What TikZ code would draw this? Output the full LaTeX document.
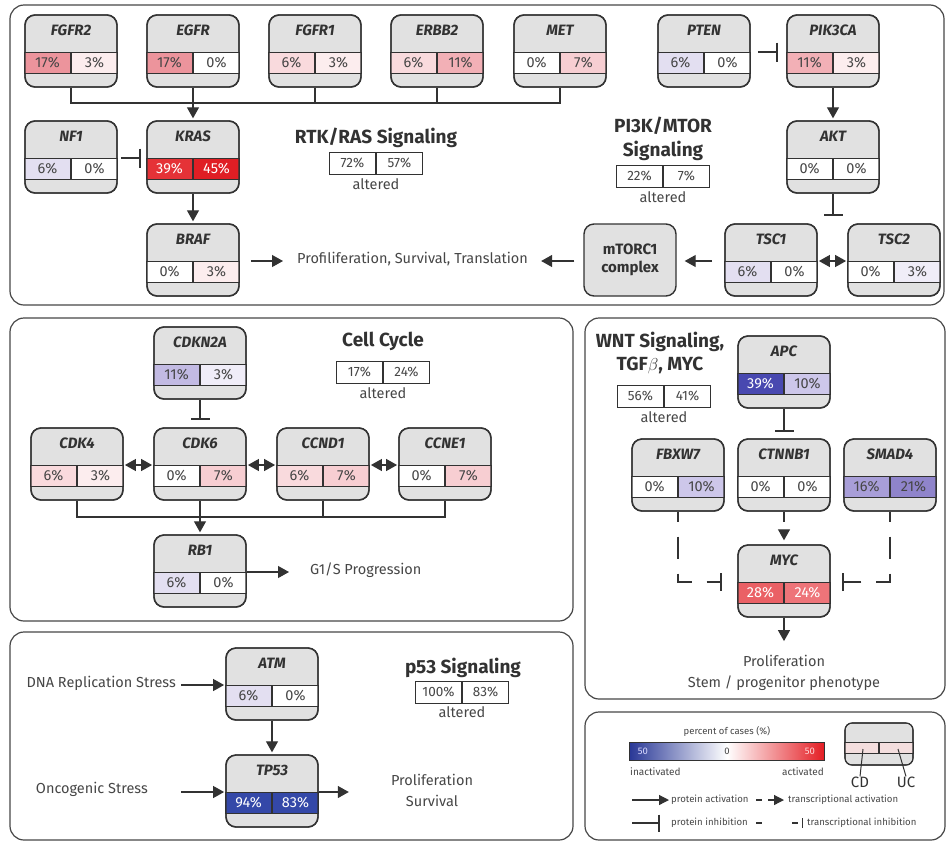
\documentclass[tikz,border=0pt]{standalone}
\usepackage{fontspec}
\setmainfont{Fira Sans}
\usetikzlibrary{arrows.meta,calc}
\definecolor{boxgray}{RGB}{225,225,225}
\definecolor{lin}{RGB}{50,50,50}
\definecolor{tg}{RGB}{70,70,70}
\definecolor{rA}{RGB}{252,237,238}
\definecolor{rB}{RGB}{249,218,221}
\definecolor{rC}{RGB}{247,206,210}
\definecolor{rD}{RGB}{242,176,182}
\definecolor{rE}{RGB}{236,148,156}
\definecolor{rF}{RGB}{238,116,121}
\definecolor{rG}{RGB}{234,96,101}
\definecolor{rH}{RGB}{229,50,55}
\definecolor{rI}{RGB}{224,30,36}
\definecolor{bA}{RGB}{240,237,248}
\definecolor{bB}{RGB}{227,223,241}
\definecolor{bC}{RGB}{205,199,234}
\definecolor{bD}{RGB}{194,186,227}
\definecolor{bE}{RGB}{168,158,216}
\definecolor{bF}{RGB}{143,132,203}
\definecolor{bG}{RGB}{72,72,176}
\definecolor{bH}{RGB}{52,72,168}
\definecolor{gblue}{RGB}{40,55,150}
\definecolor{gred}{RGB}{228,30,36}
\definecolor{legpink}{RGB}{244,222,222}
\tikzset{
  panel/.style={draw=lin!90, line width=1.2pt, rounded corners=14pt},
  genebox/.style={draw=lin, fill=boxgray, line width=1.4pt, rounded corners=10pt, minimum width=92pt, minimum height=72pt, inner sep=0pt},
  geneframe/.style={draw=lin, line width=1.4pt, rounded corners=10pt, minimum width=92pt, minimum height=72pt, inner sep=0pt},
  cell/.style={draw=lin, line width=0.9pt, minimum width=46pt, minimum height=21pt, inner sep=0pt, font=\fontsize{14.5}{14.5}\selectfont, text=tg},
  acell/.style={draw=lin, fill=white, line width=1pt, minimum width=46pt, minimum height=22pt, inner sep=0pt, font=\fontsize{13.5}{13.5}\selectfont, text=tg},
  gname/.style={inner sep=0pt, font=\fontsize{15}{15}\selectfont\bfseries\itshape, text=lin},
  ttl/.style={inner sep=0pt, align=center, font=\fontsize{19}{23.5}\selectfont\bfseries, text=lin},
  alt/.style={inner sep=0pt, font=\fontsize{14.5}{14.5}\selectfont, text=tg},
  txt/.style={inner sep=0pt, align=center, font=\fontsize{14.5}{21}\selectfont, text=tg},
  conn/.style={draw=lin, line width=1.2pt},
  act/.style={conn, -{Triangle[width=12pt,length=11pt]}},
  dact/.style={conn, -{Triangle[width=12pt,length=11pt]}, dash pattern=on 22pt off 15pt, dash phase=12pt},
  both/.style={conn, {Triangle[width=12pt,length=11pt]}-{Triangle[width=12pt,length=11pt]}},
  inh/.style={conn, line width=1.4pt, -{Bar[width=19pt,line width=2pt]}},
  dinh/.style={conn, line width=1.6pt, -{Bar[width=18pt,line width=2pt]}, dash pattern=on 22pt off 15pt, dash phase=12pt},
  leg/.style={inner sep=0pt, font=\fontsize{9.6}{9.6}\selectfont, text=tg, anchor=west},
  legsmall/.style={inner sep=0pt, font=\fontsize{9.5}{9.5}\selectfont, text=tg},
}
\newcommand\gene[8]{%
  \node[genebox] (#1) at (#2,#3) {};
  \node[cell,fill=#5,anchor=north east] (#1-l) at (#2,{#3+1}) {#6};
  \node[cell,fill=#7,anchor=north west] (#1-r) at (#2,{#3+1}) {#8};
  \node[geneframe] (#1-f) at (#2,#3) {};
  \node[gname] (#1-n) at (#2,{#3-21}) {#4};
}
\newcommand\altbox[6]{% id, x, y, a, b, gap
  \node[acell,anchor=east] (#1-a) at (#2,#3) {#4};
  \node[acell,anchor=west] (#1-b) at (#2,#3) {#5};
  \node[alt] (#1-c) at (#2,{#3+#6}) {altered};
}
\newcommand\wt[1]{\textcolor{white}{#1}}
\begin{document}
\begin{tikzpicture}[x=1pt,y=-1pt]
\useasboundingbox (0,0) rectangle (947,844);
% panels
\draw[panel] (10,5) rectangle (944,305);
\draw[panel] (10,318) rectangle (573,621);
\draw[panel] (10,632) rectangle (573,840);
\draw[panel] (585,318) rectangle (945,699);
\draw[panel] (585,712) rectangle (945,840);

% ===== RTK/RAS and PI3K =====
\gene{FGFR2}{71}{51}{FGFR2}{rE}{17\%}{rA}{3\%}
\gene{EGFR}{193}{51}{EGFR}{rE}{17\%}{white}{0\%}
\gene{FGFR1}{315}{51}{FGFR1}{rB}{6\%}{rA}{3\%}
\gene{ERBB2}{437}{51}{ERBB2}{rB}{6\%}{rD}{11\%}
\gene{MET}{560}{51}{MET}{white}{0\%}{rC}{7\%}
\gene{PTEN}{704}{51}{PTEN}{bB}{6\%}{white}{0\%}
\gene{PIK3CA}{833}{51}{PIK3CA}{rD}{11\%}{rA}{3\%}
\gene{NF1}{71}{157}{NF1}{bB}{6\%}{white}{0\%}
\gene{KRAS}{193}{157}{KRAS}{rH}{\wt{39\%}}{rI}{\wt{45\%}}
\gene{AKT}{833}{157}{AKT}{white}{0\%}{white}{0\%}
\gene{BRAF}{193}{260}{BRAF}{white}{0\%}{rA}{3\%}
\gene{TSC1}{771}{260}{TSC1}{bB}{6\%}{white}{0\%}
\gene{TSC2}{894}{260}{TSC2}{white}{0\%}{bA}{3\%}
\node[genebox, align=center, font=\fontsize{15}{18}\selectfont\bfseries, text=lin] (mtorc) at (630,260) {mTORC1\\complex};

\node[ttl] (rtkt) at (376,138) {RTK/RAS Signaling};
\altbox{rtk}{376}{163}{72\%}{57\%}{21}
\node[ttl] (pikt) at (663,139) {PI3K/MTOR\\Signaling};
\altbox{pik}{663}{176}{22\%}{7\%}{21}

\node[txt, anchor=west] (out1) at (297,259) {Profiliferation, Survival, Translation};

\coordinate (rtkbus) at (0,103);
\draw[conn] (FGFR2.south) -- (FGFR2.south |- rtkbus) -| (MET.south);
\draw[conn] (FGFR1.south) -- (FGFR1.south |- rtkbus);
\draw[conn] (ERBB2.south) -- (ERBB2.south |- rtkbus);
\draw[act, shorten >=2pt] (EGFR.south) -- (KRAS.north);
\draw[inh, shorten <=3pt, shorten >=5pt] (NF1-r.north east) -- (KRAS-l.north west);
\draw[act, shorten >=2pt] (KRAS.south) -- (BRAF.north);
\draw[act, shorten <=11pt, shorten >=14pt] (BRAF-r.north east) -- (BRAF-r.north east -| out1.west);
\draw[inh, shorten <=7pt, shorten >=8pt] (PTEN-r.north east) -- (PIK3CA-l.north west);
\draw[act, shorten >=2pt] (PIK3CA.south) -- (AKT.north);
\coordinate (tscj) at (833,216);
\draw[inh] (AKT.south) -- (tscj);
\draw[both, shorten <=1pt, shorten >=1pt] (TSC1-r.north east) -- (TSC2-l.north west);
\draw[act, shorten <=12pt, shorten >=8pt] (TSC1-l.north west) -- (TSC1-l.north west -| mtorc.east);
\draw[act, shorten <=9pt, shorten >=13pt] (TSC1-l.north west -| mtorc.west) -- (TSC1-l.north west -| out1.east);

% ===== Cell cycle =====
\gene{CDKN2A}{200}{363}{CDKN2A}{bD}{11\%}{bA}{3\%}
\gene{CDK4}{77}{464}{CDK4}{rB}{6\%}{rA}{3\%}
\gene{CDK6}{200}{464}{CDK6}{white}{0\%}{rC}{7\%}
\gene{CCND1}{323}{464}{CCND1}{rB}{6\%}{rC}{7\%}
\gene{CCNE1}{445}{464}{CCNE1}{white}{0\%}{rC}{7\%}
\gene{RB1}{200}{571}{RB1}{bB}{6\%}{white}{0\%}
\node[ttl] (cct) at (383,341) {Cell Cycle};
\altbox{cc}{383}{372}{17\%}{24\%}{21}
\node[txt, anchor=west] (g1s) at (310,570) {G1/S Progression};

\draw[inh, shorten >=7pt] (CDKN2A.south) -- (CDK6.north);
\draw[both, shorten <=1pt, shorten >=1pt] (CDK4-r.north east) -- (CDK6-l.north west);
\draw[both, shorten <=1pt, shorten >=1pt] (CDK6-r.north east) -- (CCND1-l.north west);
\draw[both, shorten <=1pt, shorten >=1pt] (CCND1-r.north east) -- (CCNE1-l.north west);
\coordinate (ccbus) at (0,517);
\draw[conn] (CDK4.south) -- (CDK4.south |- ccbus) -| (CCNE1.south);
\draw[conn] (CCND1.south) -- (CCND1.south |- ccbus);
\draw[act, shorten >=2pt] (CDK6.south) -- (RB1.north);
\draw[act, shorten >=21pt] (RB1-r.north east) -- (RB1-r.north east -| g1s.west);

% ===== p53 =====
\gene{ATM}{272}{684}{ATM}{bB}{6\%}{white}{0\%}
\gene{TP53}{272}{791}{TP53}{bH}{\wt{94\%}}{bH}{\wt{83\%}}
\node[ttl] (p53t) at (463,668) {p53 Signaling};
\altbox{p53}{462}{692}{100\%}{83\%}{20}
\node[txt, anchor=east] (dna) at (176,683) {DNA Replication Stress};
\node[txt, anchor=east] (onco) at (148,789) {Oncogenic Stress};
\node[txt] (p53out) at (432,790) {Proliferation\\Survival};
\draw[act, shorten <=5pt, shorten >=1pt] (ATM-l.north west -| dna.east) -- (ATM-l.north west);
\draw[act, shorten <=33pt, shorten >=1pt] (TP53-l.north west -| onco.east) -- (TP53-l.north west);
\draw[act, shorten >=2pt] (ATM.south) -- (TP53.north);
\draw[act, shorten >=42pt] (TP53-r.north east) -- (TP53-r.north east -| p53out.west);

% ===== WNT =====
\gene{APC}{784}{372}{APC}{bG}{\wt{39\%}}{bC}{10\%}
\gene{FBXW7}{678}{475}{FBXW7}{white}{0\%}{bC}{10\%}
\gene{CTNNB1}{784}{475}{CTNNB1}{white}{0\%}{white}{0\%}
\gene{SMAD4}{890}{475}{SMAD4}{bE}{16\%}{bF}{21\%}
\gene{MYC}{784}{581}{MYC}{rG}{\wt{28\%}}{rF}{\wt{24\%}}
\node[ttl] (wntt) at (660,353) {WNT Signaling,\\TGF$\beta$, MYC};
\altbox{wnt}{664}{396}{56\%}{41\%}{21}
\node[txt] (wntout) at (784,673) {Proliferation\\Stem / progenitor phenotype};
\draw[inh, shorten >=6pt] (APC.south) -- (CTNNB1.north);
\draw[dact, shorten >=4pt] (CTNNB1.south) -- (MYC.north);
\draw[dinh, shorten >=15pt] (FBXW7.south) |- (MYC-l.north west);
\draw[dinh, shorten >=11pt] (SMAD4.south) |- (MYC-r.north east);
\draw[act, shorten >=14pt] (MYC.south) -- (wntout.north);

% ===== Legend =====
\node[legsmall] (lpc) at (727,731) {percent of cases (\%)};
\shade[left color=gblue, right color=white] (629,742) rectangle (727,760);
\shade[left color=white, right color=gred] (727,742) rectangle (824,760);
\draw[lin, line width=1pt] (629,742) rectangle (824,760);
\node[legsmall, text=white!85!blue] (l50a) at (643,751) {50};
\node[legsmall] (l0) at (727,751) {0};
\node[legsmall, text=white!85!red] (l50b) at (810,751) {50};
\node[legsmall, anchor=west, font=\fontsize{10}{10}\selectfont] (linact) at (630,772) {inactivated};
\node[legsmall, anchor=east, font=\fontsize{10}{10}\selectfont] (lact) at (824,772) {activated};
\node[draw=lin, fill=boxgray, line width=1.1pt, rounded corners=7pt, minimum width=68pt, minimum height=42pt, inner sep=0pt] (legbox) at (879,744) {};
\node[draw=lin, fill=legpink, line width=0.8pt, minimum width=34pt, minimum height=11pt, inner sep=0pt, anchor=north east] (legl) at (879,742) {};
\node[draw=lin, fill=legpink, line width=0.8pt, minimum width=34pt, minimum height=11pt, inner sep=0pt, anchor=north west] (legr) at (879,742) {};
\node[draw=lin, line width=1.1pt, rounded corners=7pt, minimum width=68pt, minimum height=42pt, inner sep=0pt] (legframe) at (879,744) {};
\node[inner sep=0pt, font=\fontsize{15}{15}\selectfont, text=lin] (lcd) at (860,782) {CD};
\node[inner sep=0pt, font=\fontsize{15}{15}\selectfont, text=lin] (luc) at (906,782) {UC};
\draw[lin, line width=1pt] (863,749) -- (lcd.north);
\draw[lin, line width=1pt] (898,749) -- (luc.north);

\coordinate (la1) at (632,800);
\node[leg] (lt1) at (671,800) {protein activation};
\draw[conn, -{Triangle[width=10pt,length=10pt]}, shorten >=2pt] (la1) -- (lt1.west);
\coordinate (la2) at (756,800);
\node[leg] (lt2) at (788,800) {transcriptional activation};
\draw[conn, -{Triangle[width=10pt,length=10pt]}, dash pattern=on 6pt off 6pt, shorten >=4pt] (la2) -- (lt2.west);
\coordinate (la3) at (632,823);
\node[leg] (lt3) at (671,823) {protein inhibition};
\draw[conn, line width=1.6pt, -{Bar[width=17pt,line width=2pt]}, shorten >=11pt] (la3) -- (lt3.west);
\coordinate (la4) at (756,823);
\node[leg] (lt4) at (807,823) {transcriptional inhibition};
\draw[conn, -{Bar[width=10pt,line width=1.4pt]}, dash pattern=on 6pt off 30pt, shorten >=4pt] (la4) -- (lt4.west);
\end{tikzpicture}
\end{document}
